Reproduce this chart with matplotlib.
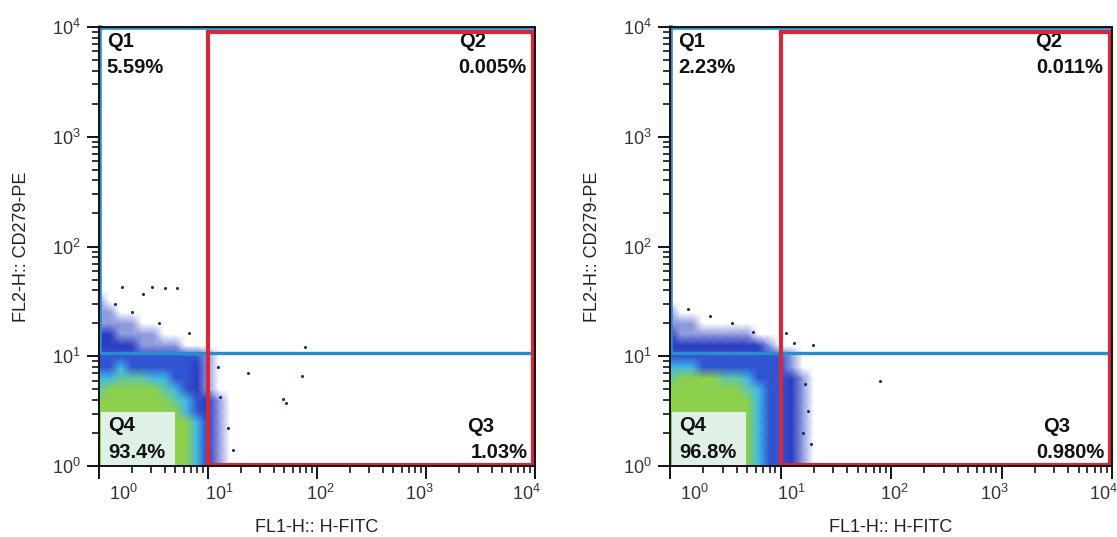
import numpy as np
import matplotlib.pyplot as plt
from matplotlib.colors import LinearSegmentedColormap
from matplotlib.patches import Rectangle
from matplotlib.transforms import ScaledTranslation

plt.rcParams['font.family'] = ['Liberation Sans', 'DejaVu Sans']
plt.rcParams['mathtext.fontset'] = 'custom'
plt.rcParams['mathtext.rm'] = 'Liberation Sans'
plt.rcParams['mathtext.it'] = 'Liberation Sans:italic'

# density levels (0 = empty ... 6 = green core)
# vertices every 0.1 decade, x 10^0..10^1.3, rows from y=10^1.7 down to 10^0
grid_x = np.round(np.arange(0, 1.31, 0.1), 2)
grid_y = np.round(np.arange(0, 1.71, 0.1), 2)

density_left = [
    "00000000000000",
    "00000000000000",
    "10000000000000",
    "11000000000000",
    "11110000000000",
    "22111100000000",
    "22221111000000",
    "33333333331000",
    "33433333321000",
    "44555443321000",
    "56666654321000",
    "66666665432100",
    "66666666432100",
    "66666666642100",
    "66666666642100",
    "66666666642100",
    "66666666642100",
    "66666666642100",
]
density_right = [
    "00000000000000",
    "00000000000000",
    "00000000000000",
    "10000000000000",
    "11100000000000",
    "21111111000000",
    "22222222210000",
    "33333333333100",
    "44433333333100",
    "56666554333210",
    "66666665433210",
    "66666666433210",
    "66666666433210",
    "66666666433210",
    "66666666433210",
    "66666666433210",
    "66666666433210",
    "66666666433210",
]

# isolated events (log10 units)
dots_left_x = [0.21, 0.49, 0.40, 0.61, 0.72, 0.83, 1.09, 1.11, 1.18, 1.23,
               1.37, 1.86, 1.69, 1.72, 1.89, 0.15, 0.30, 0.55]
dots_left_y = [1.63, 1.63, 1.57, 1.62, 1.62, 1.21, 0.90, 0.63, 0.35, 0.15,
               0.85, 0.82, 0.61, 0.57, 1.08, 1.48, 1.40, 1.30]
dots_right_x = [0.16, 0.36, 0.56, 0.75, 1.12, 1.29, 1.05, 1.90, 1.25, 1.20,
                1.28, 1.22]
dots_right_y = [1.43, 1.37, 1.30, 1.22, 1.12, 1.10, 1.21, 0.77, 0.50, 0.30,
                0.20, 0.75]

pct_left = ['5.59%', '0.005%', '1.03%', '93.4%']
pct_right = ['2.23%', '0.011%', '0.980%', '96.8%']

gate_h = 10 ** 1.03   # blue quadrant line
gate_v = 10 ** 1.0    # red gate left edge
red_top = 10 ** 3.95
red_right = 10 ** 3.98
red_bottom = 10 ** 0.006

xlabel = 'FL1-H:: H-FITC'
ylabel = 'FL2-H:: CD279-PE'

cmap = LinearSegmentedColormap.from_list(
    'flow', ['#ffffff', '#8f9ade', '#2c3cc0', '#3154d2',
             '#40b8e8', '#62c8a8', '#8cd04e'])

fig = plt.figure(figsize=(11.17, 5.37), dpi=100)
ax_l = fig.add_axes([99 / 1117, 1 - 466 / 537, 436 / 1117, 439 / 537])
ax_r = fig.add_axes([670 / 1117, 1 - 466 / 537, 442 / 1117, 439 / 537])

label_shift = [24, 11, 3, -7, -9]


def draw_panel(ax, dens, dx, dy, pct, box_w):
    Z = np.array([[int(c) for c in row] for row in dens[::-1]], dtype=float)
    X, Y = np.meshgrid(10 ** grid_x, 10 ** grid_y)
    ax.pcolormesh(X, Y, Z, cmap=cmap, vmin=0, vmax=6, shading='gouraud',
                  zorder=1)
    ax.scatter(10 ** np.array(dx), 10 ** np.array(dy), s=5, color='#1c2a80',
               lw=0, zorder=2)

    ax.set_xscale('log')
    ax.set_yscale('log')
    ax.set_xlim(1, 1e4)
    ax.set_ylim(1, 1e4)

    # blue quadrant gate
    blue = '#2a8ccc'
    ax.plot([1, 1e4], [gate_h, gate_h], color=blue, lw=2.4, zorder=3)
    ax.plot([1.02, 1.02], [gate_h, 1e4], color=blue, lw=2.6, zorder=3,
            clip_on=False)
    ax.plot([1, 1e4], [10 ** 3.99, 10 ** 3.99], color=blue, lw=2.6, zorder=3)

    # Q4 label box
    ax.add_patch(Rectangle((0.004, 0.002), box_w, 0.121,
                           transform=ax.transAxes, facecolor='#e4f2ef',
                           edgecolor='none', alpha=0.95, zorder=4))

    tk = dict(fontsize=14.5, color='#111111', zorder=5, va='center',
              weight='bold', transform=ax.transAxes)
    ax.text(0.018, 0.968, 'Q1', ha='left', **tk)
    ax.text(0.018, 0.907, pct[0], ha='left', **tk)
    ax.text(0.827, 0.968, 'Q2', ha='left', **tk)
    ax.text(0.980, 0.907, pct[1], ha='right', **tk)
    ax.text(0.845, 0.089, 'Q3', ha='left', **tk)
    ax.text(0.984, 0.030, pct[2], ha='right', **tk)
    ax.text(0.021, 0.093, 'Q4', ha='left', **tk)
    ax.text(0.021, 0.030, pct[3], ha='left', **tk)

    # red gate
    red = '#d6283a'
    ax.plot([gate_v, gate_v, red_right, red_right, gate_v],
            [red_bottom, red_top, red_top, red_bottom, red_bottom],
            color=red, lw=3.0, zorder=6, solid_joinstyle='miter')

    for s in ax.spines.values():
        s.set_color('#111111')
        s.set_linewidth(1.4)
        s.set_zorder(7)
    ax.tick_params(which='major', direction='out', length=9, width=1.3,
                   labelsize=13, labelcolor='#333333', pad=4)
    ax.tick_params(which='minor', direction='out', length=5, width=1.1)
    ax.set_xticks([1, 10, 100, 1000, 10000])
    ax.set_yticks([1, 10, 100, 1000, 10000])
    ax.set_xlabel(xlabel, fontsize=13, color='#222222', labelpad=11)
    ax.set_ylabel(ylabel, fontsize=13, color='#222222', labelpad=16)

    for lab, sh in zip(ax.get_xticklabels(), label_shift):
        lab.set_transform(lab.get_transform() +
                          ScaledTranslation(sh / 100, 0, fig.dpi_scale_trans))


draw_panel(ax_l, density_left, dots_left_x, dots_left_y, pct_left, 0.170)
draw_panel(ax_r, density_right, dots_right_x, dots_right_y, pct_right, 0.168)

fig.savefig('out.png', dpi=100)
